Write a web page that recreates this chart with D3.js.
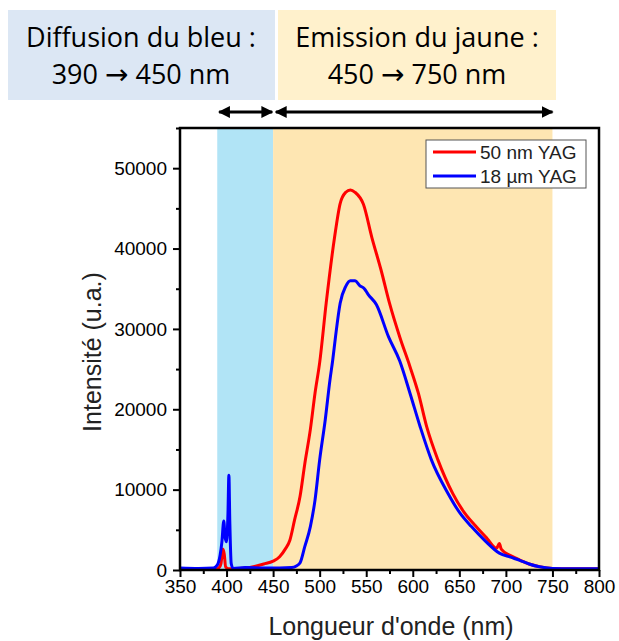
<!DOCTYPE html>
<html lang="fr">
<head>
<meta charset="UTF-8">
<title>Spectres YAG</title>
<script src="https://cdn.jsdelivr.net/npm/d3@7"></script>
<style>
  body { margin: 0; background: #fff; }
  .tick text { font-family: "Liberation Sans", Arial, sans-serif; font-size: 19px; fill: #000; }
  .head { font-family: "Open Sans", sans-serif; font-size: 27px; fill: #000; }
  .arr { font-family: "DejaVu Sans", sans-serif; font-size: 28px; }
  .lab { font-family: "Liberation Sans", Arial, sans-serif; fill: #222; }
</style>
</head>
<body>
<svg id="main" width="619" height="641"></svg>
<script>
// 50 nm YAG
const redLambda = [350, 370, 388, 392, 394, 396, 397.5, 399, 402, 410, 420, 430, 440, 450, 457, 463, 468, 473, 479, 484, 490, 495, 500, 507, 516, 522, 528, 533, 538, 547, 556, 566, 575, 586, 597, 606, 615, 627, 643, 655, 668, 680, 690, 693, 695, 705, 715, 725, 736, 750, 770, 800];
const redValues = [150, 100, 100, 300, 800, 2600, 2000, 400, 150, 150, 250, 450, 750, 1100, 1650, 2600, 3700, 6200, 9200, 13200, 17500, 22000, 25800, 33200, 41400, 45600, 47000, 47300, 47000, 45500, 41400, 37300, 33200, 29000, 25300, 22000, 17800, 13700, 9500, 7200, 5400, 3900, 2700, 3300, 2600, 1800, 1240, 750, 420, 200, 150, 150];
// 18 µm YAG
const blueLambda = [350, 370, 386, 390, 393, 395, 397, 398.5, 400, 401.5, 402.5, 403.5, 405, 407, 420, 440, 457, 470, 475, 479, 484, 490, 495, 500, 506, 511, 514, 517, 522, 528, 533, 538, 543, 548, 552, 561, 574, 586, 597, 608, 620, 638, 650, 663, 678, 693, 705, 715, 725, 736, 750, 770, 800];
const blueValues = [250, 200, 250, 600, 1800, 3500, 6100, 4000, 3500, 7000, 11800, 6000, 800, 200, 300, 250, 250, 300, 500, 900, 2900, 5400, 8700, 13700, 18700, 23600, 26100, 29000, 33200, 35300, 36000, 36000, 35400, 35000, 34300, 33000, 29000, 26000, 22000, 17800, 13700, 9500, 7200, 5400, 3600, 2100, 1600, 1200, 750, 400, 200, 150, 150];

const seriesNames = ["50 nm YAG", "18 µm YAG"];
const seriesColors = ["#ff0000", "#0000ff"];
const xTicks = [350, 400, 450, 500, 550, 600, 650, 700, 750, 800];
const yTicks = [0, 10000, 20000, 30000, 40000, 50000];
const blueBand = [390, 450];
const yellowBand = [450, 750];

const svg = d3.select("#main");
const x = d3.scaleLinear().domain([350, 800]).range([180, 599]);
const y = d3.scaleLinear().domain([0, 55000]).range([570, 128]);

// header boxes
const head = svg.append("g");
head.append("rect").attr("x", 8).attr("y", 10).attr("width", 267).attr("height", 90).attr("fill", "#dce7f4");
head.append("rect").attr("x", 278).attr("y", 10).attr("width", 278).attr("height", 90).attr("fill", "#fff1cc");
function headText(cx, cy, parts) {
  const t = head.append("text").attr("class", "head").attr("x", cx).attr("y", cy).attr("text-anchor", "middle");
  parts.forEach(p => t.append("tspan").attr("class", p[1] || null).text(p[0]));
}
headText(141, 47, [["Diffusion du bleu :"]]);
headText(141, 84, [["390 "], ["→", "arr"], [" 450 nm"]]);
headText(417, 47, [["Emission du jaune :"]]);
headText(417, 84, [["450 "], ["→", "arr"], [" 750 nm"]]);

// double arrows
const defs = svg.append("defs");
defs.append("marker").attr("id", "ah").attr("viewBox", "0 0 10 10").attr("refX", 9).attr("refY", 5)
  .attr("markerWidth", 4).attr("markerHeight", 4).attr("orient", "auto-start-reverse")
  .append("path").attr("d", "M0,0L10,5L0,10z").attr("fill", "#000");
[[blueBand[0] + 2, blueBand[1] - 1], [yellowBand[0] + 3, yellowBand[1]]].forEach(r => {
  svg.append("line").attr("x1", x(r[0])).attr("x2", x(r[1])).attr("y1", 112).attr("y2", 112)
    .attr("stroke", "#000").attr("stroke-width", 3)
    .attr("marker-start", "url(#ah)").attr("marker-end", "url(#ah)");
});

// bands
svg.append("rect").attr("x", x(blueBand[0])).attr("y", y(55000)).attr("width", x(blueBand[1]) - x(blueBand[0]))
  .attr("height", y(0) - y(55000)).attr("fill", "#b1e4f6");
svg.append("rect").attr("x", x(yellowBand[0])).attr("y", y(55000)).attr("width", x(yellowBand[1]) - x(yellowBand[0]))
  .attr("height", y(0) - y(55000)).attr("fill", "#fee6b2");

// curves
const line = d3.line().x(d => x(d[0])).y(d => y(d[1])).curve(d3.curveMonotoneX);
svg.append("path").datum(d3.zip(redLambda, redValues)).attr("d", line)
  .attr("fill", "none").attr("stroke", seriesColors[0]).attr("stroke-width", 3);
svg.append("path").datum(d3.zip(blueLambda, blueValues)).attr("d", line)
  .attr("fill", "none").attr("stroke", seriesColors[1]).attr("stroke-width", 3);

// axes
const xMinor = d3.range(375, 800, 50);
const yMinor = d3.range(5000, 55001, 10000);
svg.append("g").attr("transform", "translate(0,570)")
  .call(d3.axisBottom(x).tickValues(xMinor).tickSize(4).tickFormat(""))
  .call(g => g.select(".domain").remove())
  .selectAll("line").attr("stroke-width", 2);
svg.append("g").attr("transform", "translate(0,570)")
  .call(d3.axisBottom(x).tickValues(xTicks).tickSize(7).tickPadding(3).tickFormat(d3.format("d")))
  .call(g => g.select(".domain").remove())
  .selectAll("line").attr("stroke-width", 2);
svg.append("g").attr("transform", "translate(180,0)")
  .call(d3.axisLeft(y).tickValues(yMinor).tickSize(4).tickFormat(""))
  .call(g => g.select(".domain").remove())
  .selectAll("line").attr("stroke-width", 2);
svg.append("g").attr("transform", "translate(180,0)")
  .call(d3.axisLeft(y).tickValues(yTicks).tickSize(7).tickPadding(6).tickFormat(d3.format("d")))
  .call(g => g.select(".domain").remove())
  .selectAll("line").attr("stroke-width", 2);

svg.append("rect").attr("x", 180).attr("y", 128).attr("width", 419).attr("height", 442)
  .attr("fill", "none").attr("stroke", "#000").attr("stroke-width", 2.5);

// axis titles
svg.append("text").attr("class", "lab").attr("font-size", 25).attr("text-anchor", "middle")
  .attr("transform", "translate(101,352) rotate(-90)").text("Intensité (u.a.)");
svg.append("text").attr("class", "lab").attr("font-size", 25).attr("text-anchor", "middle")
  .attr("x", 391).attr("y", 635).text("Longueur d'onde (nm)");

// legend
const lg = svg.append("g");
lg.append("rect").attr("x", 426).attr("y", 140).attr("width", 160).attr("height", 48)
  .attr("fill", "#fff").attr("stroke", "#555").attr("stroke-width", 1);
seriesNames.forEach((n, i) => {
  const yy = 152 + i * 24;
  lg.append("line").attr("x1", 433).attr("x2", 476).attr("y1", yy).attr("y2", yy)
    .attr("stroke", seriesColors[i]).attr("stroke-width", 3);
  lg.append("text").attr("class", "lab").attr("font-size", 19).attr("fill", "#000")
    .attr("x", 480).attr("y", yy + 7).text(n);
});
</script>
</body>
</html>
